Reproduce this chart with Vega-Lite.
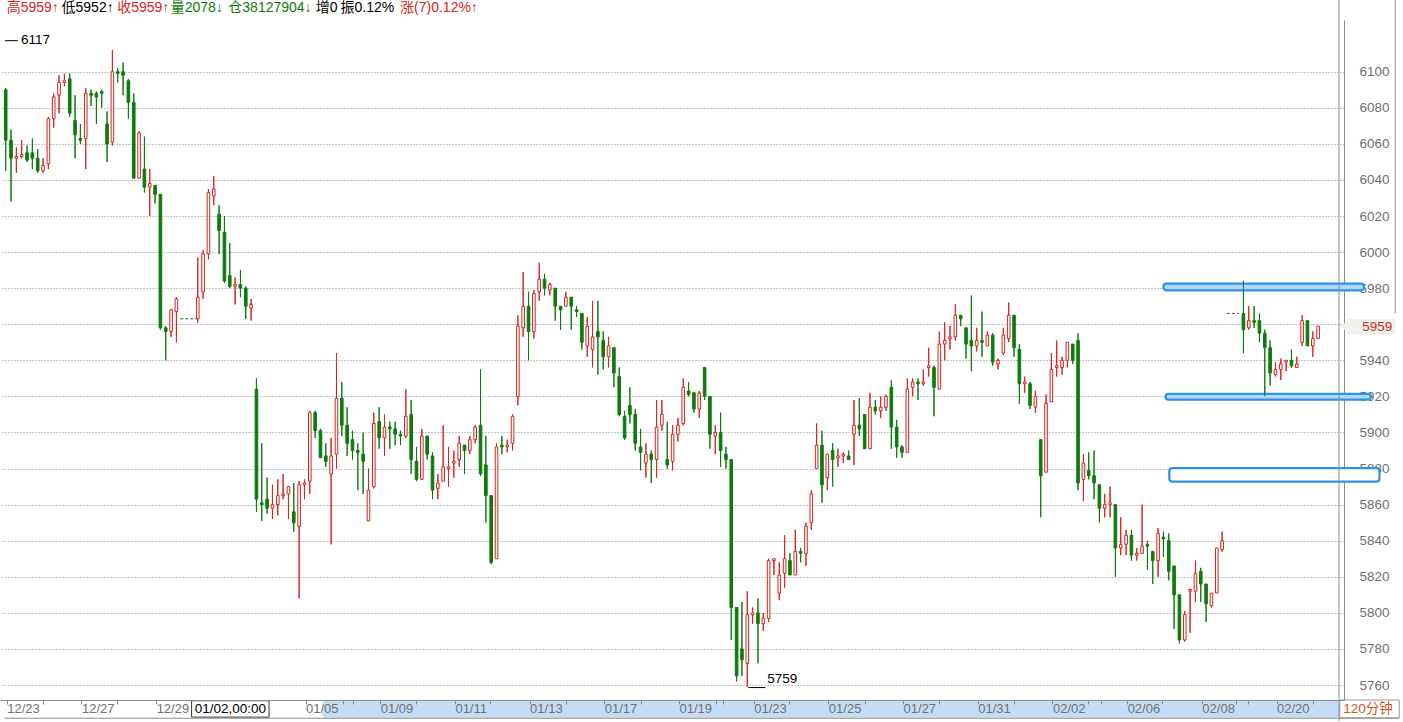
{
"$schema": "https://vega.github.io/schema/vega-lite/v6.json",
"width": 1344, "height": 680,
"autosize": {"type": "none"},
"padding": {"left": 0, "top": 20, "right": 59, "bottom": 22},
"background": "white",
"config": {"view": {"stroke": null}},
"resolve": {"axis": {"x": "independent", "y": "independent"}},
"datasets": {
"candles": [
{"i":0,"o":6090,"h":6091,"l":6045,"c":6062},{"i":1,"o":6062,"h":6068,"l":6028,"c":6052},{"i":2,"o":6052,"h":6058,"l":6044,"c":6053},{"i":3,"o":6053,"h":6062,"l":6052,"c":6054},{"i":4,"o":6055,"h":6059,"l":6050,"c":6051},{"i":5,"o":6055,"h":6063,"l":6046,"c":6052},{"i":6,"o":6052,"h":6057,"l":6044,"c":6045},{"i":7,"o":6045,"h":6052,"l":6044,"c":6048},{"i":8,"o":6049,"h":6075,"l":6046,"c":6074},{"i":9,"o":6074,"h":6088,"l":6069,"c":6086},
{"i":10,"o":6087,"h":6098,"l":6077,"c":6094},{"i":11,"o":6094,"h":6099,"l":6092,"c":6095},{"i":12,"o":6096,"h":6099,"l":6075,"c":6077},{"i":13,"o":6073,"h":6087,"l":6052,"c":6065},{"i":14,"o":6063,"h":6071,"l":6060,"c":6062},{"i":15,"o":6063,"h":6091,"l":6046,"c":6088},{"i":16,"o":6088,"h":6090,"l":6081,"c":6087},{"i":17,"o":6088,"h":6089,"l":6071,"c":6086},{"i":18,"o":6089,"h":6090,"l":6080,"c":6088},{"i":19,"o":6071,"h":6078,"l":6050,"c":6060},
{"i":20,"o":6061,"h":6112,"l":6059,"c":6100},{"i":21,"o":6100,"h":6102,"l":6094,"c":6099},{"i":22,"o":6100,"h":6105,"l":6087,"c":6098},{"i":23,"o":6095,"h":6096,"l":6074,"c":6083},{"i":24,"o":6083,"h":6088,"l":6041,"c":6041},{"i":25,"o":6041,"h":6067,"l":6041,"c":6066},{"i":26,"o":6046,"h":6064,"l":6033,"c":6036},{"i":27,"o":6036,"h":6046,"l":6020,"c":6038},{"i":28,"o":6037,"h":6037,"l":6027,"c":6032},{"i":29,"o":6032,"h":6032,"l":5957,"c":5958},
{"i":30,"o":5958,"h":5959,"l":5940,"c":5956},{"i":31,"o":5956,"h":5968,"l":5953,"c":5968},{"i":32,"o":5967,"h":5975,"l":5950,"c":5974},
{"i":36,"o":5963,"h":5997,"l":5961,"c":5975},{"i":37,"o":5978,"h":6001,"l":5974,"c":5999},{"i":38,"o":5999,"h":6035,"l":5996,"c":6033},{"i":39,"o":6031,"h":6042,"l":6026,"c":6035},
{"i":40,"o":6021,"h":6026,"l":5999,"c":6012},{"i":41,"o":6011,"h":6020,"l":5983,"c":5984},{"i":42,"o":5987,"h":6005,"l":5980,"c":5981},{"i":43,"o":5981,"h":5986,"l":5971,"c":5982},{"i":44,"o":5982,"h":5990,"l":5975,"c":5980},{"i":45,"o":5980,"h":5981,"l":5963,"c":5970},{"i":46,"o":5969,"h":5974,"l":5962,"c":5971},{"i":47,"o":5924,"h":5930,"l":5856,"c":5863},{"i":48,"o":5861,"h":5894,"l":5851,"c":5860},{"i":49,"o":5863,"h":5875,"l":5855,"c":5858},
{"i":50,"o":5858,"h":5871,"l":5852,"c":5860},{"i":51,"o":5860,"h":5874,"l":5854,"c":5865},{"i":52,"o":5865,"h":5877,"l":5863,"c":5866},{"i":53,"o":5866,"h":5870,"l":5852,"c":5870},{"i":54,"o":5856,"h":5872,"l":5845,"c":5850},{"i":55,"o":5848,"h":5873,"l":5808,"c":5871},{"i":56,"o":5871,"h":5874,"l":5863,"c":5872},{"i":57,"o":5873,"h":5912,"l":5866,"c":5911},{"i":58,"o":5911,"h":5912,"l":5897,"c":5901},{"i":59,"o":5901,"h":5902,"l":5886,"c":5886},
{"i":60,"o":5887,"h":5894,"l":5881,"c":5884},{"i":61,"o":5877,"h":5897,"l":5838,"c":5887},{"i":62,"o":5888,"h":5944,"l":5880,"c":5919},{"i":63,"o":5919,"h":5928,"l":5898,"c":5904},{"i":64,"o":5904,"h":5914,"l":5887,"c":5894},{"i":65,"o":5896,"h":5901,"l":5885,"c":5890},{"i":66,"o":5890,"h":5894,"l":5868,"c":5889},{"i":67,"o":5888,"h":5900,"l":5866,"c":5884},{"i":68,"o":5851,"h":5880,"l":5851,"c":5868},{"i":69,"o":5870,"h":5911,"l":5869,"c":5905},
{"i":70,"o":5906,"h":5914,"l":5891,"c":5897},{"i":71,"o":5897,"h":5910,"l":5887,"c":5903},{"i":72,"o":5903,"h":5906,"l":5891,"c":5902},{"i":73,"o":5902,"h":5906,"l":5893,"c":5899},{"i":74,"o":5899,"h":5901,"l":5893,"c":5898},{"i":75,"o":5898,"h":5924,"l":5897,"c":5909},{"i":76,"o":5910,"h":5918,"l":5877,"c":5885},{"i":77,"o":5884,"h":5892,"l":5873,"c":5874},{"i":78,"o":5874,"h":5902,"l":5874,"c":5898},{"i":79,"o":5898,"h":5898,"l":5885,"c":5888},
{"i":80,"o":5887,"h":5889,"l":5863,"c":5868},{"i":81,"o":5869,"h":5877,"l":5863,"c":5872},{"i":82,"o":5873,"h":5904,"l":5873,"c":5881},{"i":83,"o":5880,"h":5892,"l":5870,"c":5881},{"i":84,"o":5883,"h":5890,"l":5875,"c":5884},{"i":85,"o":5885,"h":5898,"l":5881,"c":5894},{"i":86,"o":5893,"h":5893,"l":5877,"c":5890},{"i":87,"o":5890,"h":5898,"l":5888,"c":5896},{"i":88,"o":5896,"h":5904,"l":5894,"c":5903},{"i":89,"o":5904,"h":5935,"l":5876,"c":5877},
{"i":90,"o":5882,"h":5898,"l":5850,"c":5865},{"i":91,"o":5865,"h":5865,"l":5827,"c":5828},{"i":92,"o":5830,"h":5894,"l":5830,"c":5892},{"i":93,"o":5893,"h":5898,"l":5888,"c":5892},{"i":94,"o":5892,"h":5896,"l":5889,"c":5893},{"i":95,"o":5894,"h":5910,"l":5890,"c":5909},{"i":96,"o":5920,"h":5965,"l":5915,"c":5959},{"i":97,"o":5958,"h":5989,"l":5953,"c":5970},{"i":98,"o":5970,"h":5978,"l":5940,"c":5956},{"i":99,"o":5956,"h":5979,"l":5952,"c":5977},
{"i":100,"o":5978,"h":5994,"l":5973,"c":5985},{"i":101,"o":5985,"h":5988,"l":5976,"c":5980},{"i":102,"o":5979,"h":5983,"l":5976,"c":5982},{"i":103,"o":5980,"h":5980,"l":5962,"c":5970},{"i":104,"o":5970,"h":5970,"l":5957,"c":5968},{"i":105,"o":5970,"h":5978,"l":5970,"c":5975},{"i":106,"o":5975,"h":5975,"l":5957,"c":5970},{"i":107,"o":5968,"h":5970,"l":5964,"c":5967},{"i":108,"o":5966,"h":5966,"l":5946,"c":5950},{"i":109,"o":5948,"h":5964,"l":5942,"c":5959},
{"i":110,"o":5946,"h":5973,"l":5936,"c":5953},{"i":111,"o":5956,"h":5973,"l":5932,"c":5953},{"i":112,"o":5951,"h":5956,"l":5935,"c":5942},{"i":113,"o":5942,"h":5953,"l":5936,"c":5948},{"i":114,"o":5947,"h":5947,"l":5925,"c":5933},{"i":115,"o":5931,"h":5936,"l":5909,"c":5910},{"i":116,"o":5909,"h":5912,"l":5896,"c":5897},{"i":117,"o":5915,"h":5925,"l":5905,"c":5910},{"i":118,"o":5910,"h":5913,"l":5890,"c":5894},{"i":119,"o":5892,"h":5902,"l":5879,"c":5889},
{"i":120,"o":5883,"h":5894,"l":5875,"c":5888},{"i":121,"o":5888,"h":5890,"l":5872,"c":5885},{"i":122,"o":5885,"h":5918,"l":5875,"c":5903},{"i":123,"o":5904,"h":5918,"l":5901,"c":5910},{"i":124,"o":5885,"h":5906,"l":5880,"c":5882},{"i":125,"o":5884,"h":5904,"l":5879,"c":5899},{"i":126,"o":5899,"h":5908,"l":5895,"c":5904},{"i":127,"o":5905,"h":5930,"l":5904,"c":5925},{"i":128,"o":5923,"h":5928,"l":5920,"c":5921},{"i":129,"o":5922,"h":5922,"l":5911,"c":5913},
{"i":130,"o":5913,"h":5923,"l":5908,"c":5922},{"i":131,"o":5936,"h":5936,"l":5918,"c":5920},{"i":132,"o":5920,"h":5920,"l":5891,"c":5899},{"i":133,"o":5898,"h":5904,"l":5888,"c":5900},{"i":134,"o":5900,"h":5911,"l":5881,"c":5890},{"i":135,"o":5888,"h":5892,"l":5880,"c":5885},{"i":136,"o":5885,"h":5885,"l":5785,"c":5803},{"i":137,"o":5803,"h":5803,"l":5762,"c":5765},{"i":138,"o":5780,"h":5806,"l":5765,"c":5774},{"i":139,"o":5772,"h":5812,"l":5759,"c":5799},
{"i":140,"o":5799,"h":5803,"l":5794,"c":5800},{"i":141,"o":5800,"h":5808,"l":5772,"c":5794},{"i":142,"o":5794,"h":5800,"l":5790,"c":5797},{"i":143,"o":5797,"h":5830,"l":5795,"c":5829},{"i":144,"o":5829,"h":5830,"l":5821,"c":5830},{"i":145,"o":5811,"h":5828,"l":5807,"c":5821},{"i":146,"o":5822,"h":5843,"l":5814,"c":5830},{"i":147,"o":5829,"h":5833,"l":5821,"c":5821},{"i":148,"o":5821,"h":5846,"l":5821,"c":5834},{"i":149,"o":5834,"h":5836,"l":5828,"c":5833},
{"i":150,"o":5833,"h":5850,"l":5826,"c":5848},{"i":151,"o":5850,"h":5868,"l":5846,"c":5866},{"i":152,"o":5880,"h":5905,"l":5880,"c":5893},{"i":153,"o":5893,"h":5901,"l":5861,"c":5871},{"i":154,"o":5875,"h":5888,"l":5868,"c":5888},{"i":155,"o":5890,"h":5894,"l":5870,"c":5885},{"i":156,"o":5886,"h":5891,"l":5881,"c":5887},{"i":157,"o":5887,"h":5889,"l":5883,"c":5888},{"i":158,"o":5887,"h":5890,"l":5885,"c":5885},{"i":159,"o":5899,"h":5918,"l":5882,"c":5904},
{"i":160,"o":5904,"h":5919,"l":5898,"c":5902},{"i":161,"o":5910,"h":5910,"l":5891,"c":5891},{"i":162,"o":5891,"h":5922,"l":5891,"c":5914},{"i":163,"o":5914,"h":5918,"l":5910,"c":5912},{"i":164,"o":5912,"h":5920,"l":5908,"c":5914},{"i":165,"o":5914,"h":5921,"l":5912,"c":5920},{"i":166,"o":5925,"h":5929,"l":5891,"c":5903},{"i":167,"o":5903,"h":5907,"l":5886,"c":5892},{"i":168,"o":5892,"h":5893,"l":5886,"c":5889},{"i":169,"o":5889,"h":5930,"l":5889,"c":5924},
{"i":170,"o":5925,"h":5930,"l":5920,"c":5928},{"i":171,"o":5928,"h":5930,"l":5918,"c":5927},{"i":172,"o":5927,"h":5935,"l":5926,"c":5928},{"i":173,"o":5936,"h":5947,"l":5931,"c":5937},{"i":174,"o":5936,"h":5937,"l":5909,"c":5925},{"i":175,"o":5924,"h":5956,"l":5924,"c":5949},{"i":176,"o":5949,"h":5961,"l":5940,"c":5951},{"i":177,"o":5952,"h":5959,"l":5946,"c":5953},{"i":178,"o":5953,"h":5971,"l":5951,"c":5965},{"i":179,"o":5965,"h":5965,"l":5959,"c":5963},
{"i":180,"o":5958,"h":5958,"l":5941,"c":5949},{"i":181,"o":5951,"h":5976,"l":5934,"c":5948},{"i":182,"o":5948,"h":5958,"l":5945,"c":5951},{"i":183,"o":5951,"h":5967,"l":5942,"c":5950},{"i":184,"o":5948,"h":5956,"l":5948,"c":5954},{"i":185,"o":5954,"h":5955,"l":5937,"c":5939},{"i":186,"o":5938,"h":5941,"l":5935,"c":5940},{"i":187,"o":5944,"h":5958,"l":5943,"c":5954},{"i":188,"o":5952,"h":5972,"l":5950,"c":5965},{"i":189,"o":5965,"h":5965,"l":5942,"c":5947},
{"i":190,"o":5946,"h":5949,"l":5916,"c":5927},{"i":191,"o":5927,"h":5931,"l":5922,"c":5928},{"i":192,"o":5927,"h":5928,"l":5913,"c":5915},{"i":193,"o":5914,"h":5923,"l":5911,"c":5920},{"i":194,"o":5896,"h":5896,"l":5853,"c":5876},{"i":195,"o":5878,"h":5921,"l":5878,"c":5916},{"i":196,"o":5917,"h":5944,"l":5917,"c":5935},{"i":197,"o":5936,"h":5951,"l":5931,"c":5937},{"i":198,"o":5936,"h":5942,"l":5932,"c":5940},{"i":199,"o":5940,"h":5950,"l":5936,"c":5950},
{"i":200,"o":5949,"h":5949,"l":5938,"c":5940},{"i":201,"o":5951,"h":5955,"l":5868,"c":5872},{"i":202,"o":5874,"h":5888,"l":5862,"c":5883},{"i":203,"o":5879,"h":5889,"l":5874,"c":5876},{"i":204,"o":5876,"h":5890,"l":5863,"c":5872},{"i":205,"o":5871,"h":5871,"l":5850,"c":5858},{"i":206,"o":5858,"h":5866,"l":5853,"c":5860},{"i":207,"o":5860,"h":5870,"l":5853,"c":5861},{"i":208,"o":5860,"h":5860,"l":5820,"c":5836},{"i":209,"o":5836,"h":5853,"l":5832,"c":5838},
{"i":210,"o":5838,"h":5846,"l":5832,"c":5843},{"i":211,"o":5843,"h":5846,"l":5829,"c":5832},{"i":212,"o":5832,"h":5836,"l":5829,"c":5833},{"i":213,"o":5833,"h":5860,"l":5833,"c":5837},{"i":214,"o":5838,"h":5840,"l":5824,"c":5837},{"i":215,"o":5834,"h":5834,"l":5816,"c":5829},{"i":216,"o":5829,"h":5847,"l":5820,"c":5844},{"i":217,"o":5842,"h":5845,"l":5831,"c":5841},{"i":218,"o":5840,"h":5844,"l":5818,"c":5823},{"i":219,"o":5826,"h":5826,"l":5791,"c":5810},
{"i":220,"o":5810,"h":5810,"l":5783,"c":5785},{"i":221,"o":5785,"h":5801,"l":5784,"c":5799},{"i":222,"o":5812,"h":5813,"l":5789,"c":5813},{"i":223,"o":5812,"h":5829,"l":5806,"c":5822},{"i":224,"o":5823,"h":5825,"l":5806,"c":5816},{"i":225,"o":5816,"h":5816,"l":5795,"c":5805},{"i":226,"o":5804,"h":5811,"l":5803,"c":5811},{"i":227,"o":5811,"h":5836,"l":5811,"c":5836},{"i":228,"o":5835,"h":5845,"l":5834,"c":5840},
{"i":232,"o":5966,"h":5984,"l":5944,"c":5957},{"i":233,"o":5958,"h":5970,"l":5957,"c":5962},{"i":234,"o":5962,"h":5970,"l":5958,"c":5961},{"i":235,"o":5962,"h":5966,"l":5950,"c":5955},{"i":236,"o":5955,"h":5957,"l":5920,"c":5947},{"i":237,"o":5947,"h":5951,"l":5926,"c":5933},{"i":238,"o":5932,"h":5939,"l":5931,"c":5935},{"i":239,"o":5935,"h":5941,"l":5929,"c":5938},
{"i":240,"o":5939,"h":5940,"l":5934,"c":5940},{"i":241,"o":5940,"h":5946,"l":5936,"c":5937},{"i":242,"o":5936,"h":5942,"l":5936,"c":5938},{"i":243,"o":5950,"h":5965,"l":5948,"c":5962},{"i":244,"o":5962,"h":5962,"l":5948,"c":5948},{"i":245,"o":5948,"h":5956,"l":5942,"c":5952},{"i":246,"o":5952,"h":5959,"l":5952,"c":5959}
],
"flats": [{"i1":32.7,"i2":35.8,"p":5963,"dir":"down"},{"i1":228.9,"i2":231.2,"p":5966,"dir":"up"}],
"zones": [{"i1":217.0,"i2":254.6,"p1":5982.5,"p2":5978.8,"kind":"line"},{"i1":217.4,"i2":255.9,"p1":5921.4,"p2":5918.2,"kind":"line"},{"i1":218.1,"i2":257.5,"p1":5880.2,"p2":5872.8,"kind":"box"}],
"panels": [{"i1":59.4,"i2":249.91,"p1":5751.6,"p2":5741.8,"kind":"strip"},{"i1":34.85,"i2":49.36,"p1":5751.3,"p2":5742.2,"kind":"cursor"},{"i1":250.05,"i2":261.2,"p1":5751.7,"p2":5741.8,"kind":"period"},{"i1":251.6,"i2":260.4,"p1":5962.7,"p2":5954.7,"kind":"tag"}],
"rules": [{"i1":-0.2,"i2":261.2,"p1":5741.6,"p2":5741.6,"kind":"frame"},{"i1":249.91,"i2":249.91,"p1":6139.8,"p2":5740,"kind":"frame"},{"i1":260.45,"i2":260.45,"p1":6139.8,"p2":5966,"kind":"frame"},{"i1":-0.13,"i2":2.3,"p1":6117.2,"p2":6117.2,"kind":"mark"},{"i1":139.2,"i2":142.4,"p1":5758.6,"p2":5758.6,"kind":"mark"}],
"header": [{"i":0.19,"p":6135.3,"t":"高5959↑","dir":"up"},{"i":10.47,"p":6135.3,"t":"低5952↑","dir":"flat"},{"i":20.89,"p":6135.3,"t":"收5959↑","dir":"up"},{"i":30.94,"p":6135.3,"t":"量2078↓","dir":"down"},{"i":41.73,"p":6135.3,"t":"仓38127904↓","dir":"down"},{"i":58.1,"p":6135.3,"t":"增0","dir":"flat"},{"i":62.75,"p":6135.3,"t":"振0.12%","dir":"flat"},{"i":73.92,"p":6135.3,"t":"涨(7)0.12%↑","dir":"up"}],
"notes": [{"i":2.85,"p":6117.6,"t":"6117","kind":"extreme"},{"i":142.75,"p":5763.3,"t":"5759","kind":"extreme"},{"i":42.1,"p":5746.9,"t":"01/02,00:00","kind":"cursor"},{"i":255.35,"p":5746.9,"t":"120分钟","kind":"period"},{"i":257.1,"p":5958.7,"t":"5959","kind":"tag"}]
},
"layer": [
{"data": {"name": "panels"}, "transform": [{"filter": "datum.kind == 'strip'"}],
 "mark": {"type": "rect", "fill": "#c6dcf4", "cornerRadius": 3},
 "encoding": {"x": {"field": "i1", "type": "quantitative", "scale": {"domain": [-0.13, 249.91], "nice": false, "zero": false}, "axis": null}, "x2": {"field": "i2"},
  "y": {"field": "p1", "type": "quantitative", "scale": {"domain": [5751.7, 6128.66], "nice": false, "zero": false}, "axis": null}, "y2": {"field": "p2"}}},
{"data": {"name": "candles"},
 "mark": {"type": "rule", "strokeWidth": 1},
 "encoding": {
  "x": {"field": "i", "type": "quantitative", "scale": {"domain": [-0.13, 249.91], "nice": false, "zero": false},
   "axis": {"title": null, "orient": "bottom", "values": [0.2, 6.9, 14.2, 20.8, 28.2, 56.2, 63.3, 65.1, 70.2, 76.9, 84.2, 90.8, 98.2, 105, 112.2, 119, 126.2, 133.1, 134.4, 140.2, 146.8, 154.2, 161, 168.2, 175, 182.2, 188.9, 196.2, 202.8, 205.3, 210.2, 216.8, 224.2, 230.6, 232.8, 238.2, 245],
    "labelExpr": "indexof([0.2,14.2,28.2,56.2,70.2,84.2,98.2,112.2,126.2,140.2,154.2,168.2,182.2,196.2,210.2,224.2,238.2], datum.value) < 0 ? '' : ['12/23','12/27','12/29','01/05','01/09','01/11','01/13','01/17','01/19','01/23','01/25','01/27','01/31','02/02','02/06','02/08','02/20'][indexof([0.2,14.2,28.2,56.2,70.2,84.2,98.2,112.2,126.2,140.2,154.2,168.2,182.2,196.2,210.2,224.2,238.2], datum.value)]",
    "domain": true, "domainColor": "#8c8c8c", "domainWidth": 1, "ticks": true, "tickColor": "#8c8c8c", "tickSize": 4, "tickWidth": 1,
    "labelAlign": "left", "labelBaseline": "middle", "labelPadding": 4, "labelDx": 2, "labelFont": "Liberation Sans", "labelFontSize": 13, "labelColor": "#707070",
    "labelFlush": false, "labelOverlap": false, "labelBound": false, "grid": false, "zindex": 1}},
  "y": {"field": "l", "type": "quantitative", "scale": {"domain": [5751.7, 6128.66], "nice": false, "zero": false},
   "axis": {"title": null, "orient": "right", "values": [5760, 5780, 5800, 5820, 5840, 5860, 5880, 5900, 5920, 5940, 5960, 5980, 6000, 6020, 6040, 6060, 6080, 6100],
    "format": "d", "labelExpr": "datum.value == 5960 ? '' : datum.label",
    "domain": true, "domainColor": "#8c8c8c", "ticks": false, "labelPadding": 15, "labelAlign": "left", "labelBaseline": "middle",
    "labelFont": "Liberation Sans", "labelFontSize": 13.5, "labelColor": "#707070", "labelOverlap": false, "labelFlush": false, "labelBound": false,
    "grid": true, "gridColor": "#8a8a8a", "gridDash": [1, 2], "gridWidth": 1, "zindex": 0}},
  "y2": {"field": "h"},
  "color": {"condition": {"test": "datum.c >= datum.o", "value": "#d9231f"}, "value": "#0c7b0c"}}},
{"data": {"name": "zones"},
 "mark": {"type": "rect", "stroke": "#2e92ea", "strokeWidth": 2.2, "cornerRadius": 3},
 "encoding": {"x": {"field": "i1", "type": "quantitative", "scale": {"domain": [-0.13, 249.91], "nice": false, "zero": false}, "axis": null}, "x2": {"field": "i2"},
  "y": {"field": "p1", "type": "quantitative", "scale": {"domain": [5751.7, 6128.66], "nice": false, "zero": false}, "axis": null}, "y2": {"field": "p2"},
  "fill": {"condition": {"test": "datum.kind == 'line'", "value": "#b3d8f8"}, "value": "#ffffff"}}},
{"data": {"name": "candles"},
 "mark": {"type": "rule", "strokeWidth": 1},
 "encoding": {
  "x": {"field": "i", "type": "quantitative", "scale": {"domain": [-0.13, 249.91], "nice": false, "zero": false}, "axis": null},
  "y": {"field": "l", "type": "quantitative", "scale": {"domain": [5751.7, 6128.66], "nice": false, "zero": false}, "axis": null},
  "y2": {"field": "h"},
  "color": {"condition": {"test": "datum.c >= datum.o", "value": "#d9231f"}, "value": "#0c7b0c"}}},
{"data": {"name": "candles"},
 "mark": {"type": "bar", "size": 2.6, "strokeWidth": 1},
 "encoding": {
  "x": {"field": "i", "type": "quantitative", "scale": {"domain": [-0.13, 249.91], "nice": false, "zero": false}, "axis": null},
  "y": {"field": "o", "type": "quantitative", "scale": {"domain": [5751.7, 6128.66], "nice": false, "zero": false}, "axis": null},
  "y2": {"field": "c"},
  "fill": {"condition": {"test": "datum.c >= datum.o", "value": "#ffffff"}, "value": "#0c7b0c"},
  "stroke": {"condition": {"test": "datum.c >= datum.o", "value": "#d9231f"}, "value": "#0c7b0c"}}},
{"data": {"name": "flats"},
 "mark": {"type": "rule", "strokeWidth": 1, "strokeDash": [3, 2]},
 "encoding": {
  "x": {"field": "i1", "type": "quantitative", "scale": {"domain": [-0.13, 249.91], "nice": false, "zero": false}, "axis": null}, "x2": {"field": "i2"},
  "y": {"field": "p", "type": "quantitative", "scale": {"domain": [5751.7, 6128.66], "nice": false, "zero": false}, "axis": null},
  "color": {"field": "dir", "type": "nominal", "scale": {"domain": ["up", "down", "flat"], "range": ["#d9231f", "#0c7b0c", "#000000"]}, "legend": null}}},
{"data": {"name": "panels"}, "transform": [{"filter": "datum.kind != 'strip'"}],
 "mark": {"type": "rect", "strokeWidth": 1},
 "encoding": {"x": {"field": "i1", "type": "quantitative", "scale": {"domain": [-0.13, 249.91], "nice": false, "zero": false}, "axis": null}, "x2": {"field": "i2"},
  "y": {"field": "p1", "type": "quantitative", "scale": {"domain": [5751.7, 6128.66], "nice": false, "zero": false}, "axis": null}, "y2": {"field": "p2"},
  "fill": {"condition": {"test": "datum.kind == 'tag'", "value": "#edf3eb"}, "value": "#ffffff"},
  "stroke": {"condition": {"test": "datum.kind == 'cursor'", "value": "#333333"}, "value": {"expr": "datum.kind == 'period' ? '#999999' : '#edf3eb'"}}}},
{"data": {"name": "notes"}, "transform": [{"filter": "datum.kind == 'tag'"}],
 "mark": {"type": "point", "shape": "triangle-left", "filled": true, "size": 110, "color": "#edf3eb", "opacity": 1, "xOffset": -34},
 "encoding": {"x": {"field": "i", "type": "quantitative", "scale": {"domain": [-0.13, 249.91], "nice": false, "zero": false}, "axis": null},
  "y": {"field": "p", "type": "quantitative", "scale": {"domain": [5751.7, 6128.66], "nice": false, "zero": false}, "axis": null}}},
{"data": {"name": "rules"},
 "mark": {"type": "rule", "strokeWidth": 1},
 "encoding": {"x": {"field": "i1", "type": "quantitative", "scale": {"domain": [-0.13, 249.91], "nice": false, "zero": false}, "axis": null}, "x2": {"field": "i2"},
  "y": {"field": "p1", "type": "quantitative", "scale": {"domain": [5751.7, 6128.66], "nice": false, "zero": false}, "axis": null}, "y2": {"field": "p2"},
  "color": {"condition": {"test": "datum.kind == 'mark'", "value": "#000000"}, "value": "#8c8c8c"}}},
{"data": {"name": "header"},
 "mark": {"type": "text", "align": "left", "baseline": "middle", "font": "Liberation Sans, Noto Sans CJK SC", "fontSize": 14},
 "encoding": {"x": {"field": "i", "type": "quantitative", "scale": {"domain": [-0.13, 249.91], "nice": false, "zero": false}, "axis": null},
  "y": {"field": "p", "type": "quantitative", "scale": {"domain": [5751.7, 6128.66], "nice": false, "zero": false}, "axis": null},
  "text": {"field": "t"},
  "color": {"field": "dir", "type": "nominal", "scale": {"domain": ["up", "down", "flat"], "range": ["#d9231f", "#0c7b0c", "#000000"]}, "legend": null}}},
{"data": {"name": "notes"}, "transform": [{"filter": "datum.kind == 'extreme'"}],
 "mark": {"type": "text", "align": "left", "baseline": "middle", "font": "Liberation Sans", "fontSize": 13.5, "color": "#000000"},
 "encoding": {"x": {"field": "i", "type": "quantitative", "scale": {"domain": [-0.13, 249.91], "nice": false, "zero": false}, "axis": null},
  "y": {"field": "p", "type": "quantitative", "scale": {"domain": [5751.7, 6128.66], "nice": false, "zero": false}, "axis": null},
  "text": {"field": "t"}}},
{"data": {"name": "notes"}, "transform": [{"filter": "datum.kind != 'extreme'"}],
 "mark": {"type": "text", "align": "center", "baseline": "middle", "font": "Liberation Sans, Noto Sans CJK SC", "fontSize": 13.5},
 "encoding": {"x": {"field": "i", "type": "quantitative", "scale": {"domain": [-0.13, 249.91], "nice": false, "zero": false}, "axis": null},
  "y": {"field": "p", "type": "quantitative", "scale": {"domain": [5751.7, 6128.66], "nice": false, "zero": false}, "axis": null},
  "text": {"field": "t"},
  "color": {"condition": {"test": "datum.kind == 'cursor'", "value": "#000000"}, "value": {"expr": "datum.kind == 'period' ? '#d2541a' : '#d9231f'"}}}}
]
}
